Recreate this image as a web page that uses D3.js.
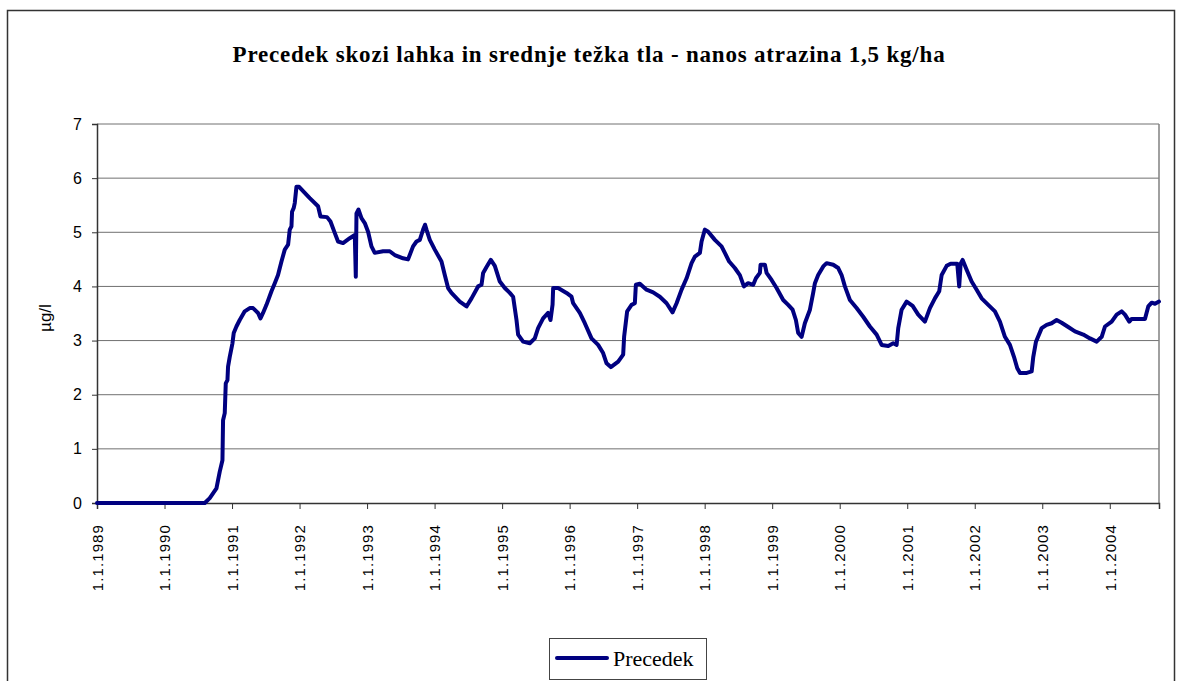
<!DOCTYPE html>
<html><head><meta charset="utf-8">
<script src="https://cdn.jsdelivr.net/npm/d3@7"></script>
<style>body{margin:0;background:#fff}svg{display:block}</style>
</head><body>
<script>
const titleText = "Precedek skozi lahka in srednje težka tla - nanos atrazina 1,5 kg/ha";
const yLabel = "µg/l";
const seriesName = "Precedek";
const yTicks = [0,1,2,3,4,5,6,7];
const xTickYears = [1989,1990,1991,1992,1993,1994,1995,1996,1997,1998,1999,2000,2001,2002,2003,2004];
const xTickLabels = xTickYears.map(y => "1.1." + y);
// decimal year of each measurement
const years = [1989.000,1990.596,1990.670,1990.769,1990.818,1990.858,1990.867,1990.892,1990.907,1990.932,1990.941,1990.966,1991.006,1991.025,1991.065,1991.114,1991.188,1991.262,1991.311,1991.385,1991.421,1991.459,1991.510,1991.584,1991.633,1991.681,1991.732,1991.781,1991.830,1991.855,1991.880,1991.889,1991.914,1991.929,1991.954,1991.993,1992.151,1992.274,1992.310,1992.407,1992.458,1992.521,1992.570,1992.644,1992.744,1992.818,1992.833,1992.843,1992.873,1992.917,1992.966,1993.015,1993.065,1993.114,1993.237,1993.336,1993.410,1993.533,1993.607,1993.681,1993.732,1993.781,1993.830,1993.859,1993.880,1993.929,1994.003,1994.102,1994.151,1994.200,1994.250,1994.373,1994.473,1994.547,1994.644,1994.695,1994.719,1994.769,1994.833,1994.892,1994.966,1995.040,1995.114,1995.163,1995.213,1995.237,1995.311,1995.410,1995.484,1995.533,1995.607,1995.681,1995.717,1995.747,1995.756,1995.830,1995.954,1996.028,1996.052,1996.151,1996.225,1996.324,1996.422,1996.496,1996.547,1996.610,1996.719,1996.793,1996.807,1996.852,1996.917,1996.966,1996.981,1997.040,1997.139,1997.237,1997.336,1997.436,1997.524,1997.584,1997.658,1997.732,1997.806,1997.855,1997.929,1997.954,1998.003,1998.052,1998.151,1998.250,1998.299,1998.363,1998.447,1998.521,1998.581,1998.644,1998.719,1998.759,1998.818,1998.828,1998.892,1998.917,1998.991,1999.065,1999.163,1999.237,1999.302,1999.351,1999.385,1999.436,1999.484,1999.559,1999.607,1999.633,1999.681,1999.756,1999.806,1999.904,1999.978,2000.028,2000.077,2000.151,2000.250,2000.348,2000.447,2000.547,2000.621,2000.719,2000.793,2000.843,2000.867,2000.917,2000.991,2001.080,2001.163,2001.262,2001.336,2001.410,2001.474,2001.510,2001.584,2001.643,2001.741,2001.770,2001.791,2001.821,2001.880,2001.954,2002.028,2002.102,2002.200,2002.299,2002.373,2002.447,2002.521,2002.581,2002.630,2002.670,2002.759,2002.843,2002.867,2002.907,2002.991,2003.065,2003.139,2003.213,2003.287,2003.385,2003.484,2003.607,2003.707,2003.806,2003.880,2003.929,2004.028,2004.102,2004.176,2004.225,2004.289,2004.324,2004.521,2004.570,2004.621,2004.670,2004.729];
const values = [0,0,0.09,0.27,0.58,0.79,1.53,1.66,2.21,2.27,2.52,2.70,2.95,3.14,3.26,3.38,3.54,3.60,3.60,3.51,3.41,3.51,3.66,3.91,4.06,4.21,4.46,4.68,4.77,5.05,5.11,5.38,5.45,5.54,5.84,5.84,5.63,5.48,5.29,5.28,5.20,4.99,4.83,4.80,4.89,4.95,4.18,5.35,5.42,5.26,5.17,5.01,4.74,4.62,4.65,4.65,4.58,4.52,4.50,4.74,4.83,4.86,5.05,5.14,5.05,4.86,4.68,4.46,4.21,3.97,3.88,3.72,3.63,3.78,4.00,4.03,4.25,4.36,4.49,4.38,4.09,3.97,3.88,3.81,3.38,3.11,2.98,2.95,3.04,3.23,3.41,3.51,3.38,3.66,3.97,3.97,3.88,3.81,3.69,3.51,3.32,3.04,2.92,2.77,2.58,2.51,2.61,2.74,3.07,3.54,3.66,3.69,4.03,4.05,3.94,3.89,3.81,3.69,3.52,3.69,3.94,4.15,4.43,4.55,4.62,4.83,5.05,5.01,4.86,4.74,4.62,4.46,4.34,4.21,4.00,4.06,4.03,4.15,4.25,4.40,4.40,4.25,4.12,3.97,3.75,3.66,3.57,3.38,3.14,3.07,3.32,3.57,3.88,4.06,4.21,4.37,4.43,4.40,4.34,4.21,4.00,3.75,3.60,3.44,3.26,3.11,2.92,2.90,2.95,2.92,3.23,3.57,3.72,3.64,3.48,3.35,3.60,3.78,3.91,4.21,4.38,4.42,4.42,4.00,4.42,4.49,4.31,4.09,3.94,3.78,3.66,3.54,3.35,3.07,2.92,2.70,2.49,2.40,2.40,2.43,2.70,2.98,3.23,3.29,3.32,3.38,3.33,3.25,3.17,3.11,3.04,2.98,3.07,3.26,3.35,3.48,3.54,3.48,3.35,3.40,3.40,3.63,3.70,3.68,3.72];

const W = 1183, H = 681;
const svg = d3.select("body").append("svg").attr("width", W).attr("height", H);

// outer chart border
svg.append("rect").attr("x", 7.5).attr("y", 10.5).attr("width", 1167).attr("height", 700)
  .attr("fill", "#fff").attr("stroke", "#333").attr("stroke-width", 1.5);

const pLeft = 97, pRight = 1159, pTop = 124, pBottom = 503;
const x = d3.scaleLinear().domain([1989, years[years.length-1]]).range([pLeft, pRight]);
const y = d3.scaleLinear().domain([0, 7]).range([pBottom, pTop]);

// gridlines
svg.append("g").selectAll("line").data(yTicks.filter(v => v > 0)).join("line")
  .attr("x1", pLeft).attr("x2", pRight).attr("y1", d => y(d)).attr("y2", d => y(d))
  .attr("stroke", "#707070").attr("stroke-width", 1);
// right border of plot
svg.append("line").attr("x1", pRight).attr("x2", pRight).attr("y1", pTop).attr("y2", pBottom)
  .attr("stroke", "#808080").attr("stroke-width", 1.5);

// y axis
const yAxis = d3.axisLeft(y).tickValues(yTicks).tickSize(5).tickPadding(10).tickFormat(d3.format("d"));
const gy = svg.append("g").attr("transform", `translate(${pLeft},0)`).call(yAxis);
gy.select(".domain").attr("stroke", "#333").attr("stroke-width", 1.5);
gy.selectAll(".tick line").attr("stroke", "#333");
gy.selectAll("text").attr("font-family", "Liberation Sans, Arial, sans-serif").attr("font-size", 16).attr("fill", "#000");

// x axis
const xAxis = d3.axisBottom(x).tickValues(xTickYears).tickSize(6).tickFormat((d, i) => xTickLabels[i]);
const gx = svg.append("g").attr("transform", `translate(0,${pBottom})`).call(xAxis);
gx.select(".domain").attr("stroke", "#333").attr("stroke-width", 1.5);
gx.selectAll(".tick line").attr("stroke", "#333");
gx.selectAll("text")
  .attr("font-family", "Liberation Sans, Arial, sans-serif").attr("font-size", 15).attr("fill", "#000")
  .attr("letter-spacing", "1.1px")
  .attr("transform", "rotate(-90)").attr("text-anchor", "end")
  .attr("x", -21).attr("y", 0).attr("dy", "0.35em");

// line
const line = d3.line().x((d, i) => x(years[i])).y(d => y(d));
svg.append("path").datum(values).attr("d", line)
  .attr("fill", "none").attr("stroke", "#000080").attr("stroke-width", 4)
  .attr("stroke-linejoin", "round").attr("stroke-linecap", "round");

// title
svg.append("text").attr("x", 589).attr("y", 62).attr("text-anchor", "middle")
  .attr("font-family", "Liberation Serif, Times New Roman, serif").attr("font-weight", "bold")
  .attr("font-size", 23).attr("letter-spacing", "0.8px").text(titleText);

// y label
svg.append("text").attr("transform", "translate(51,318) rotate(-90)").attr("text-anchor", "middle")
  .attr("font-family", "Liberation Sans, Arial, sans-serif").attr("font-size", 17).text(yLabel);

// legend
const lg = svg.append("g");
lg.append("rect").attr("x", 549.5).attr("y", 638.5).attr("width", 157).attr("height", 41)
  .attr("fill", "#fff").attr("stroke", "#444").attr("stroke-width", 1);
lg.append("line").attr("x1", 557).attr("x2", 607).attr("y1", 658).attr("y2", 658)
  .attr("stroke", "#000080").attr("stroke-width", 4).attr("stroke-linecap", "round");
lg.append("text").attr("x", 613).attr("y", 666)
  .attr("font-family", "Liberation Serif, Times New Roman, serif").attr("font-size", 22).text(seriesName);
</script>
</body></html>
